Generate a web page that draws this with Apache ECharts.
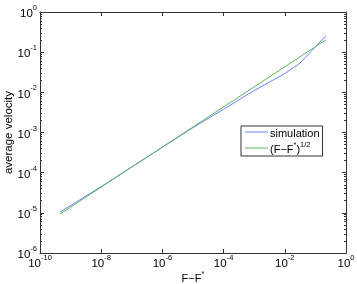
<!DOCTYPE html>
<html><head><meta charset="utf-8">
<script src="https://cdn.jsdelivr.net/npm/echarts@6/dist/echarts.min.js"></script>
<style>html,body{margin:0;padding:0;background:#fff}#c{width:357px;height:284px}</style>
</head><body><div id="c"></div>
<script>
// data
var simX = [4.5e-10, 1e-8, 1e-6, 1e-5, 1e-4, 1e-3, 1e-2, 3.1e-2, 2.17e-1];
var simY = [1.04e-5, 4.5e-5, 4.3e-4, 1.32e-3, 3.8e-3, 1.11e-2, 2.92e-2, 5.3e-2, 2.53e-1];
var fitX = [4.5e-10, 2.17e-1];
var fitY = [9.3e-6, 2.01e-1];
var xMin = 1e-10, xMax = 1, yMin = 1e-6, yMax = 1;

var yMinor = [];
for (var e = -6; e < 0; e++) for (var m = 2; m <= 9; m++) yMinor.push(m * Math.pow(10, e));

var FONT = 'Liberation Sans, Arial, Helvetica, sans-serif';
var AX = '#333';
var rich = {
  b: {fontSize: 11.5, fontFamily: FONT, color: '#000', lineHeight: 16, verticalAlign: 'bottom'},
  e: {fontSize: 7.5, fontFamily: FONT, color: '#000', lineHeight: 8, verticalAlign: 'top'}
};
function pw(v) {
  var ex = Math.round(Math.log10(v));
  return '{b|10}{e|' + ex + '}';
}
function zip(a, b) { return a.map(function (v, i) { return [v, b[i]]; }); }

function xAx(pos, labels) {
  return {type: 'log', logBase: 10, min: xMin, max: xMax, interval: 2, position: pos,
    axisLine: {show: true, onZero: false, lineStyle: {color: AX, width: 1}},
    axisTick: {show: true, inside: true, length: 4, lineStyle: {color: AX}},
    minorTick: {show: false}, splitLine: {show: false},
    axisLabel: {show: labels, formatter: pw, rich: rich, margin: 1}};
}
function yAx(pos, labels, minor) {
  var o = {type: 'log', logBase: 10, min: yMin, max: yMax, interval: 1, position: pos,
    axisLine: {show: !minor, onZero: false, lineStyle: {color: AX, width: 1}},
    axisTick: {show: true, inside: true, length: minor ? 2 : 4, lineStyle: {color: AX}},
    splitLine: {show: false},
    axisLabel: {show: labels, formatter: pw, rich: rich, margin: 3}};
  if (minor) o.axisTick.customValues = yMinor;
  return o;
}

var xa0 = xAx('bottom', true);
xa0.name = '{t|F−F}{s|*}';
xa0.nameLocation = 'middle';
xa0.nameGap = 17;
xa0.nameMoveOverlap = false;
xa0.nameTextStyle = {rich: {
  t: {fontSize: 11, fontFamily: FONT, color: '#000', lineHeight: 14, verticalAlign: 'bottom'},
  s: {fontSize: 7.5, fontFamily: FONT, color: '#000', lineHeight: 8, verticalAlign: 'top'}}};
var ya0 = yAx('left', true, false);
ya0.name = 'average velocity';
ya0.nameLocation = 'middle';
ya0.nameGap = 25;
ya0.nameMoveOverlap = false;
ya0.nameTextStyle = {fontSize: 11.5, fontFamily: FONT, color: '#000'};

var chart = echarts.init(document.getElementById('c'), null, {renderer: 'canvas'});
chart.setOption({
  backgroundColor: '#fff',
  animation: false,
  grid: {left: 40, right: 11, top: 12, bottom: 31, containLabel: false, outerBoundsMode: 'none'},
  xAxis: [xa0, xAx('top', false)],
  yAxis: [ya0, yAx('right', false, false), yAx('left', false, true), yAx('right', false, true)],
  legend: {
    orient: 'vertical', left: 241, top: 126,
    borderColor: '#333', borderWidth: 1, padding: [2, 3, 1, 4], itemGap: 2,
    itemWidth: 23, itemHeight: 1, icon: 'rect', backgroundColor: '#fff',
    textStyle: {fontSize: 11, fontFamily: FONT, color: '#000', padding: [0, 0, 0, -3], rich: {
      t: {fontSize: 11, fontFamily: FONT, color: '#000', lineHeight: 14, verticalAlign: 'bottom'},
      s: {fontSize: 7.5, fontFamily: FONT, color: '#000', lineHeight: 8, verticalAlign: 'top'}}},
    formatter: function (n) {
      if (n === 'simulation') return '{t|simulation}';
      return '{t|(F−F}{s|*}{t|)}{s|1/2}';
    },
    data: ['simulation', 'fit']
  },
  series: [
    {name: 'simulation', type: 'line', xAxisIndex: 0, yAxisIndex: 0, data: zip(simX, simY),
      symbol: 'none', lineStyle: {color: '#6682ff', width: 1}, itemStyle: {color: '#6682ff'}},
    {name: 'fit', type: 'line', xAxisIndex: 0, yAxisIndex: 0, data: zip(fitX, fitY),
      symbol: 'none', lineStyle: {color: '#5cb85c', width: 1}, itemStyle: {color: '#5cb85c'}}
  ]
});
</script></body></html>
